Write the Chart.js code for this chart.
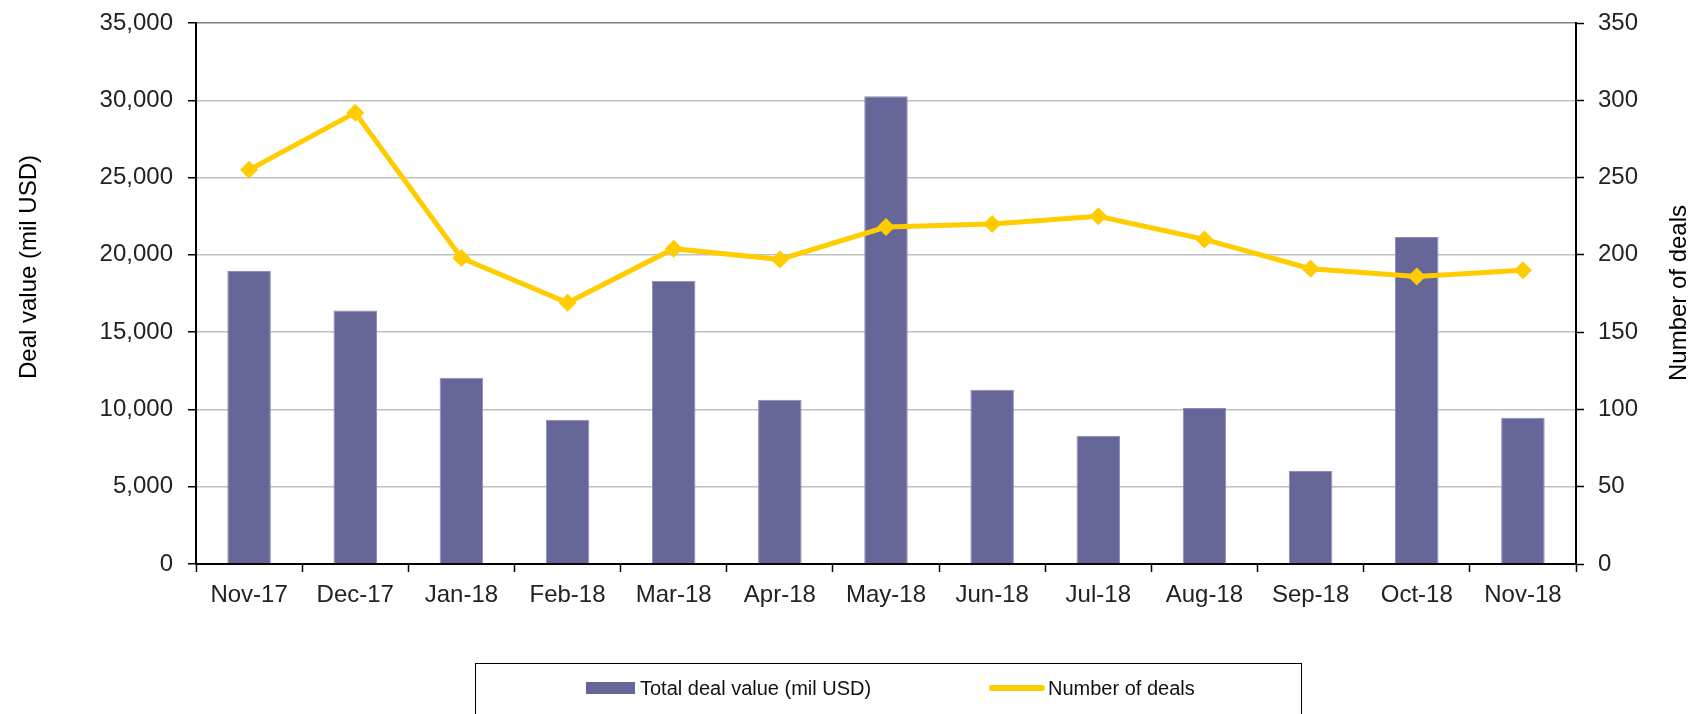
<!DOCTYPE html>
<html>
<head>
<meta charset="utf-8">
<script src="https://cdn.jsdelivr.net/npm/chart.js@4.4.1/dist/chart.umd.min.js"></script>
<style>
    html, body { margin: 0; padding: 0; background: #fff; overflow: hidden; }
    #wrap { position: relative; width: 1701px; height: 714px; }
    #chart-deals { display: block; }
    #legend {
        position: absolute; left: 475px; top: 663px; width: 827px; height: 80px;
        border: 1.5px solid #000; box-sizing: border-box;
        font-family: "Liberation Sans", Arial, sans-serif; font-size: 20px; color: #111;
    }
    .lg-item { position: absolute; top: 12px; height: 24px; line-height: 24px; white-space: nowrap; }
    .lg-bar { display: inline-block; width: 49px; height: 12px; background: #666699; vertical-align: middle; margin-right: 5px; position: relative; top: -2px; }
    .lg-line { display: inline-block; width: 56px; height: 6px; background: #ffcc00; vertical-align: middle; margin-right: 3px; position: relative; top: -2px; border-radius: 3px; }
</style>
</head>
<body>
<div id="wrap">
    <canvas id="chart-deals" width="1701" height="714"></canvas>
    <div id="legend">
        <div class="lg-item" style="left: 110px;"><span class="lg-bar"></span>Total deal value (mil USD)</div>
        <div class="lg-item" style="left: 513px;"><span class="lg-line"></span>Number of deals</div>
    </div>
</div>
<script>
const months = ['Nov-17', 'Dec-17', 'Jan-18', 'Feb-18', 'Mar-18', 'Apr-18', 'May-18',
                'Jun-18', 'Jul-18', 'Aug-18', 'Sep-18', 'Oct-18', 'Nov-18'];
const dealValue = [18950, 16400, 12050, 9330, 18320, 10630, 30260, 11270, 8300, 10090, 6010, 21160, 9460];
const dealCount = [255, 292, 198, 169, 204, 197, 218, 220, 225, 210, 191, 186, 190];

const fontFamily = '"Liberation Sans", Arial, sans-serif';

// axis titles sit off-centre in the original, so draw them by hand
const axisTitles = {
    id: 'axisTitles',
    afterDraw(chart) {
        const ctx = chart.ctx;
        ctx.save();
        ctx.font = '24px ' + fontFamily;
        ctx.fillStyle = '#000';
        ctx.textAlign = 'center';
        ctx.textBaseline = 'middle';
        ctx.translate(29, 267);
        ctx.rotate(-Math.PI / 2);
        ctx.fillText('Deal value (mil USD)', 0, 0);
        ctx.restore();

        ctx.save();
        ctx.font = '24px ' + fontFamily;
        ctx.fillStyle = '#000';
        ctx.textAlign = 'center';
        ctx.textBaseline = 'middle';
        ctx.translate(1679, 293);
        ctx.rotate(-Math.PI / 2);
        ctx.fillText('Number of deals', 0, 0);
        ctx.restore();
    }
};

const ctx = document.getElementById('chart-deals');
const chart = new Chart(ctx, {
    type: 'bar',
    data: {
        labels: months,
        datasets: [
            {
                type: 'line',
                label: 'Number of deals',
                data: dealCount,
                yAxisID: 'y2',
                borderColor: '#ffcc00',
                backgroundColor: '#ffcc00',
                borderWidth: 5,
                pointStyle: 'rectRot',
                pointRadius: 9,
                pointBorderWidth: 0,
                tension: 0,
                order: 0
            },
            {
                label: 'Total deal value (mil USD)',
                data: dealValue,
                yAxisID: 'y',
                backgroundColor: '#666699',
                borderColor: '#8c8cb8',
                borderWidth: 1,
                categoryPercentage: 1.0,
                barPercentage: 0.41,
                order: 1
            }
        ]
    },
    options: {
        responsive: false,
        animation: false,
        layout: { padding: { top: 23, left: 0, right: 0, bottom: 0 } },
        plugins: {
            legend: { display: false },
            tooltip: { enabled: false }
        },
        scales: {
            x: {
                afterFit(scale) { scale.height = 150; },
                grid: {
                    offset: true,
                    drawOnChartArea: false,
                    drawTicks: true,
                    tickLength: 8,
                    tickColor: '#000',
                    tickWidth: 1.5
                },
                border: { color: '#000', width: 2 },
                ticks: {
                    color: '#222',
                    padding: 9,
                    maxRotation: 0,
                    autoSkip: false,
                    font: { family: fontFamily, size: 24 }
                }
            },
            y: {
                position: 'left',
                min: 0,
                max: 35000,
                afterFit(scale) { scale.width = 196; scale.paddingTop = 0; scale.paddingBottom = 0; },
                grid: {
                    color: (c) => c.tick && c.tick.value === 35000 ? '#808080' : '#c0c0c0',
                    lineWidth: 1.5,
                    tickLength: 8,
                    tickColor: '#000',
                    tickWidth: 1.5
                },
                border: { color: '#000', width: 2 },
                ticks: {
                    stepSize: 5000,
                    color: '#222',
                    padding: 15,
                    font: { family: fontFamily, size: 24 },
                    callback: (v) => v.toLocaleString('en-US')
                }
            },
            y2: {
                position: 'right',
                min: 0,
                max: 350,
                afterFit(scale) { scale.width = 125; scale.paddingTop = 0; scale.paddingBottom = 0; },
                grid: {
                    drawOnChartArea: false,
                    tickLength: 8,
                    tickColor: '#000',
                    tickWidth: 1.5
                },
                border: { color: '#000', width: 2 },
                ticks: {
                    stepSize: 50,
                    color: '#222',
                    padding: 14,
                    font: { family: fontFamily, size: 24 }
                }
            }
        }
    },
    plugins: [axisTitles]
});
</script>
</body>
</html>
